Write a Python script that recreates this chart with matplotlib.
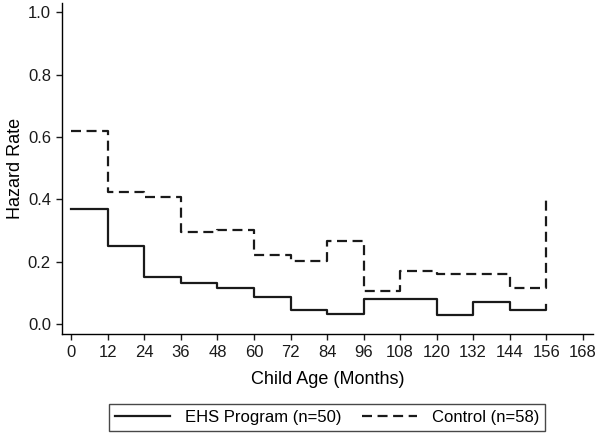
import matplotlib
matplotlib.use("Agg")
import matplotlib.pyplot as plt
from matplotlib.lines import Line2D

plt.rcParams['font.family'] = ['Liberation Sans', 'DejaVu Sans']

months = [0, 12, 24, 36, 48, 60, 72, 84, 96, 108, 120, 132, 144, 156]
ehs = [0.37, 0.25, 0.15, 0.133, 0.115, 0.088, 0.044, 0.031, 0.08, 0.08, 0.03, 0.07, 0.044, 0.06]
control = [0.62, 0.424, 0.407, 0.295, 0.301, 0.221, 0.203, 0.266, 0.106, 0.169, 0.16, 0.16, 0.115, 0.403]
xticks = list(range(0, 169, 12))
yticks = [0.0, 0.2, 0.4, 0.6, 0.8, 1.0]

fig = plt.figure(figsize=(6, 4.36), dpi=100)
ax = fig.add_axes([62/600, 1-334/436, (593-62)/600, (334-3)/436])

ax.step(months, ehs, where='post', color='#1a1a1a', lw=1.6, ls='-')
ax.step(months, control, where='post', color='#1a1a1a', lw=1.6, ls=(0, (4.5, 2.5)))

ax.set_xlim(-3.1, 171.4)
ax.set_ylim(-0.032, 1.03)
ax.set_xticks(xticks)
ax.set_yticks(yticks)
ax.set_yticklabels([f"{v:.1f}" for v in yticks])
for s in ['top', 'right']:
    ax.spines[s].set_visible(False)
for s in ['left', 'bottom']:
    ax.spines[s].set_linewidth(1.0)
ax.tick_params(axis='both', direction='out', length=4, width=1, labelsize=12,
               colors='#1a1a1a', pad=4)
ax.set_xlabel('Child Age (Months)', fontsize=13, labelpad=8)
ax.set_ylabel('Hazard Rate', fontsize=13, labelpad=3)

handles = [Line2D([], [], color='#1a1a1a', lw=1.6, ls='-'),
           Line2D([], [], color='#1a1a1a', lw=1.6, ls=(0, (4.5, 2.5)))]
leg = fig.legend(handles, ['EHS Program (n=50)', 'Control (n=58)'], loc='center',
                 bbox_to_anchor=(327/600, 1-417.5/436), ncol=2, frameon=True,
                 fancybox=False, edgecolor='#1a1a1a', fontsize=12, handlelength=3.3,
                 handletextpad=0.9, columnspacing=1.2, borderpad=0.35)
leg.get_frame().set_linewidth(1.0)

fig.savefig('out.png', dpi=100)
